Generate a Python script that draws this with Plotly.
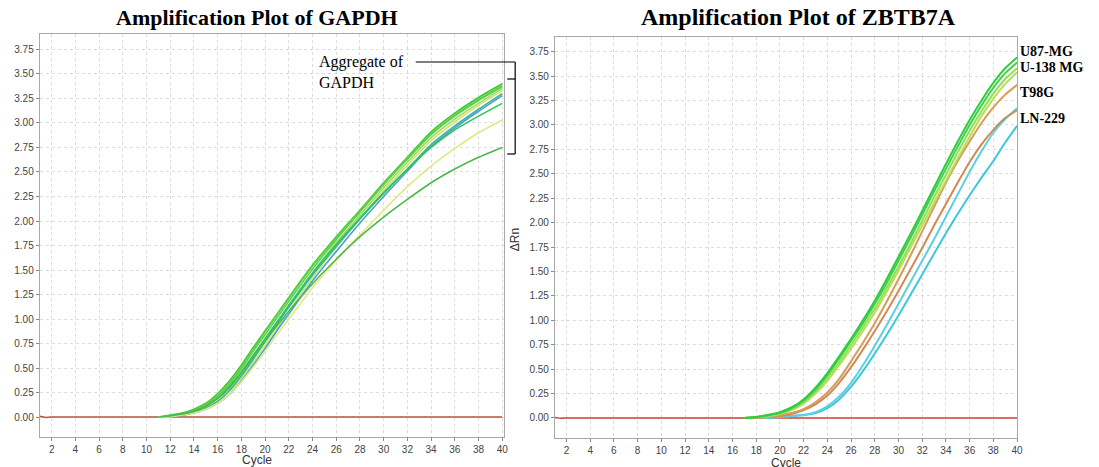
import plotly.graph_objects as go

# page body has an 8px margin; the figure fills the rest of the 1099x467 window
OFF = 8
W, H = 1099 - OFF, 467 - OFF

# ---------------- data: GAPDH (left) ----------------
cycles_left = [11, 12, 13, 14, 15, 16, 17, 18, 19, 20, 21, 22, 24, 26, 28, 30, 32, 34, 36, 38, 40]
gapdh_a = [0.00, 0.02, 0.04, 0.08, 0.14, 0.24, 0.37, 0.53, 0.71, 0.88, 1.05, 1.22, 1.55, 1.84, 2.11, 2.39, 2.65, 2.91, 3.10, 3.26, 3.40]
gapdh_b = [0.00, 0.01, 0.03, 0.07, 0.12, 0.21, 0.33, 0.49, 0.67, 0.84, 1.01, 1.18, 1.51, 1.81, 2.09, 2.37, 2.63, 2.88, 3.07, 3.23, 3.37]
gapdh_c = [0.00, 0.01, 0.03, 0.06, 0.11, 0.19, 0.30, 0.45, 0.62, 0.79, 0.96, 1.13, 1.47, 1.78, 2.06, 2.34, 2.60, 2.85, 3.04, 3.20, 3.35]
gapdh_d = [0.00, 0.01, 0.02, 0.05, 0.09, 0.16, 0.26, 0.40, 0.56, 0.73, 0.90, 1.08, 1.42, 1.73, 2.02, 2.31, 2.57, 2.82, 3.01, 3.18, 3.33]
gapdh_e = [0.00, 0.01, 0.02, 0.05, 0.09, 0.16, 0.27, 0.42, 0.59, 0.77, 0.95, 1.12, 1.45, 1.74, 2.02, 2.28, 2.53, 2.78, 2.97, 3.14, 3.30]
gapdh_f = [0.00, 0.00, 0.02, 0.04, 0.08, 0.14, 0.23, 0.37, 0.53, 0.70, 0.88, 1.05, 1.39, 1.69, 1.98, 2.25, 2.51, 2.76, 2.95, 3.12, 3.28]
gapdh_g = [0.00, 0.01, 0.03, 0.06, 0.11, 0.19, 0.31, 0.46, 0.63, 0.80, 0.97, 1.14, 1.47, 1.76, 2.03, 2.29, 2.53, 2.75, 2.93, 3.07, 3.20]
gapdh_h = [0.00, 0.01, 0.03, 0.07, 0.13, 0.22, 0.35, 0.51, 0.69, 0.87, 1.04, 1.21, 1.54, 1.83, 2.10, 2.38, 2.64, 2.89, 3.08, 3.24, 3.38]
gapdh_i = [0.00, 0.00, 0.02, 0.04, 0.08, 0.14, 0.23, 0.36, 0.51, 0.67, 0.84, 1.00, 1.32, 1.60, 1.86, 2.11, 2.35, 2.56, 2.74, 2.90, 3.03]
gapdh_j = [0.00, 0.01, 0.03, 0.06, 0.11, 0.19, 0.30, 0.45, 0.61, 0.77, 0.93, 1.08, 1.36, 1.61, 1.84, 2.04, 2.22, 2.39, 2.53, 2.65, 2.75]
gapdh_series = [gapdh_a, gapdh_b, gapdh_c, gapdh_d, gapdh_e, gapdh_f, gapdh_g, gapdh_h, gapdh_i, gapdh_j]
gapdh_colors = ["#33cc33", "#55d655", "#9ddc5a", "#d2e27a", "#38b59a", "#4aa0d2",
                "#2ec458", "#66cc44", "#e2e880", "#4cb84c"]

baseline_x = [1, 1.5, 2, 40]
baseline_left = [0.008, -0.004, 0.0, 0.0]
baseline_right = [0.006, -0.004, 0.0, 0.0]

# ---------------- data: ZBTB7A (right) ----------------
cycles_right = list(range(17, 41))
u87_a = [0.00, 0.01, 0.03, 0.06, 0.11, 0.19, 0.31, 0.46, 0.63, 0.81, 1.00, 1.20, 1.42, 1.65, 1.88, 2.12, 2.36, 2.60, 2.83, 3.05, 3.25, 3.43, 3.58, 3.69]
u87_b = [0.00, 0.01, 0.03, 0.05, 0.10, 0.18, 0.29, 0.44, 0.61, 0.79, 0.97, 1.17, 1.38, 1.61, 1.84, 2.08, 2.32, 2.55, 2.78, 3.00, 3.20, 3.38, 3.53, 3.64]
u138_a = [0.00, 0.01, 0.02, 0.05, 0.09, 0.16, 0.27, 0.41, 0.57, 0.75, 0.93, 1.12, 1.33, 1.55, 1.78, 2.02, 2.26, 2.49, 2.72, 2.94, 3.14, 3.32, 3.47, 3.58]
u138_b = [0.00, 0.01, 0.02, 0.04, 0.08, 0.15, 0.25, 0.38, 0.54, 0.71, 0.89, 1.08, 1.29, 1.51, 1.74, 1.97, 2.20, 2.43, 2.66, 2.88, 3.09, 3.27, 3.42, 3.54]
t98g = [0.00, 0.00, 0.01, 0.03, 0.05, 0.09, 0.16, 0.26, 0.40, 0.58, 0.77, 0.97, 1.19, 1.42, 1.66, 1.91, 2.16, 2.41, 2.63, 2.83, 3.02, 3.18, 3.31, 3.41]
ln229_orange = [0.00, 0.00, 0.01, 0.02, 0.04, 0.08, 0.14, 0.23, 0.36, 0.52, 0.70, 0.89, 1.09, 1.30, 1.52, 1.74, 1.97, 2.19, 2.41, 2.62, 2.80, 2.95, 3.07, 3.15]
ln229_a = [0.00, 0.00, 0.00, 0.01, 0.02, 0.03, 0.06, 0.12, 0.22, 0.36, 0.54, 0.74, 0.95, 1.17, 1.39, 1.61, 1.83, 2.06, 2.29, 2.52, 2.73, 2.92, 3.06, 3.17]
ln229_b = [0.00, 0.00, 0.00, 0.01, 0.02, 0.03, 0.05, 0.10, 0.19, 0.32, 0.48, 0.66, 0.85, 1.05, 1.26, 1.47, 1.68, 1.89, 2.09, 2.28, 2.46, 2.63, 2.82, 2.99]
zbtb_series = [ln229_b, ln229_a, ln229_orange, t98g, u138_b, u138_a, u87_b, u87_a]
zbtb_colors = ["#3cc8dc", "#5ad0e2", "#d08a55", "#d99a5c", "#b8e04c", "#8ee05a", "#44d044", "#2ecc40"]

x_ticks = list(range(2, 41, 2))
y_ticks = [i * 0.25 for i in range(16)]
sample_labels = ["U87-MG", "U-138 MG", "T98G", "LN-229"]
label_py = [51, 68, 93, 118]


def px(x):
    """window pixel x -> paper fraction"""
    return (x - OFF) / W


def py(y):
    """window pixel y -> paper fraction"""
    return 1 - (y - OFF) / H


# ---------------- figure ----------------
fig = go.Figure()

fig.add_trace(go.Scatter(x=baseline_x, y=baseline_left, mode="lines",
                         line=dict(color="#b8563a", width=1.5), xaxis="x", yaxis="y", hoverinfo="skip"))
for ys, col in zip(gapdh_series, gapdh_colors):
    fig.add_trace(go.Scatter(x=cycles_left, y=ys, mode="lines",
                             line=dict(color=col, width=1.6, shape="spline", smoothing=0.6),
                             xaxis="x", yaxis="y"))

fig.add_trace(go.Scatter(x=baseline_x, y=baseline_right, mode="lines",
                         line=dict(color="#cc4433", width=1.5), xaxis="x2", yaxis="y2", hoverinfo="skip"))
for ys, col in zip(zbtb_series, zbtb_colors):
    fig.add_trace(go.Scatter(x=cycles_right, y=ys, mode="lines",
                             line=dict(color=col, width=2, shape="spline", smoothing=0.6),
                             xaxis="x2", yaxis="y2"))

axis_common = dict(showline=True, linecolor="#a8a8a8", linewidth=1.2, mirror=True,
                   showgrid=True, gridcolor="#dcdcdc", griddash="dot", gridwidth=1,
                   ticks="outside", ticklen=3, tickcolor="#888", zeroline=False,
                   tickfont=dict(family="Liberation Sans, Arial", size=10, color="#444"))

fig.update_layout(
    width=W, height=H,
    margin=dict(l=0, r=0, t=0, b=0),
    paper_bgcolor="white", plot_bgcolor="white",
    showlegend=False,
    xaxis=dict(domain=[px(40), px(507)], range=[1, 40.17], tickvals=x_ticks, anchor="y", **axis_common),
    yaxis=dict(domain=[py(437), py(34)], range=[-0.204, 3.908], tickvals=y_ticks,
               tickformat=".2f", anchor="x", **axis_common),
    xaxis2=dict(domain=[px(558), px(1023)], range=[1.03, 40.03], tickvals=x_ticks, anchor="y2", **axis_common),
    yaxis2=dict(domain=[py(438), py(37)], range=[-0.205, 3.90], tickvals=y_ticks,
                tickformat=".2f", anchor="x2", **axis_common),
)

ann = []
serif = "Liberation Serif, Times New Roman, serif"
ann.append(dict(x=px(258), y=py(17), text="<b>Amplification Plot of GAPDH</b>",
                font=dict(family=serif, size=22, color="black"), xanchor="center", yanchor="middle"))
ann.append(dict(x=px(803), y=py(17), text="<b>Amplification Plot of ZBTB7A</b>",
                font=dict(family=serif, size=24, color="black"), xanchor="center", yanchor="middle"))
ann.append(dict(x=px(319), y=py(51), text="Aggregate of<br>GAPDH", align="left",
                font=dict(family=serif, size=16, color="black"), xanchor="left", yanchor="top"))
for lab, yy in zip(sample_labels, label_py):
    ann.append(dict(x=px(1024), y=py(yy), text="<b>" + lab + "</b>",
                    font=dict(family=serif, size=14, color="black"), xanchor="left", yanchor="middle"))
axis_title_font = dict(family="Liberation Sans, Arial", size=12, color="#333")
ann.append(dict(x=px(258), y=py(460), text="Cycle", font=axis_title_font, xanchor="center", yanchor="middle"))
ann.append(dict(x=px(790), y=py(463), text="Cycle", font=axis_title_font, xanchor="center", yanchor="middle"))
ann.append(dict(x=px(518), y=py(240), text="ΔRn", font=axis_title_font, textangle=-90,
                xanchor="center", yanchor="middle"))
for a in ann:
    a.update(xref="paper", yref="paper", showarrow=False)
fig.update_layout(annotations=ann)

line_style = dict(color="black", width=1.2)
segments = [(418, 62, 518, 62), (518, 62, 518, 154), (510, 79, 518, 79), (510, 154, 518, 154)]
shapes = [dict(type="line", xref="paper", yref="paper", x0=px(a), y0=py(b), x1=px(c), y1=py(d), line=line_style)
          for a, b, c, d in segments]
fig.update_layout(shapes=shapes)

fig.write_html("out.html")
